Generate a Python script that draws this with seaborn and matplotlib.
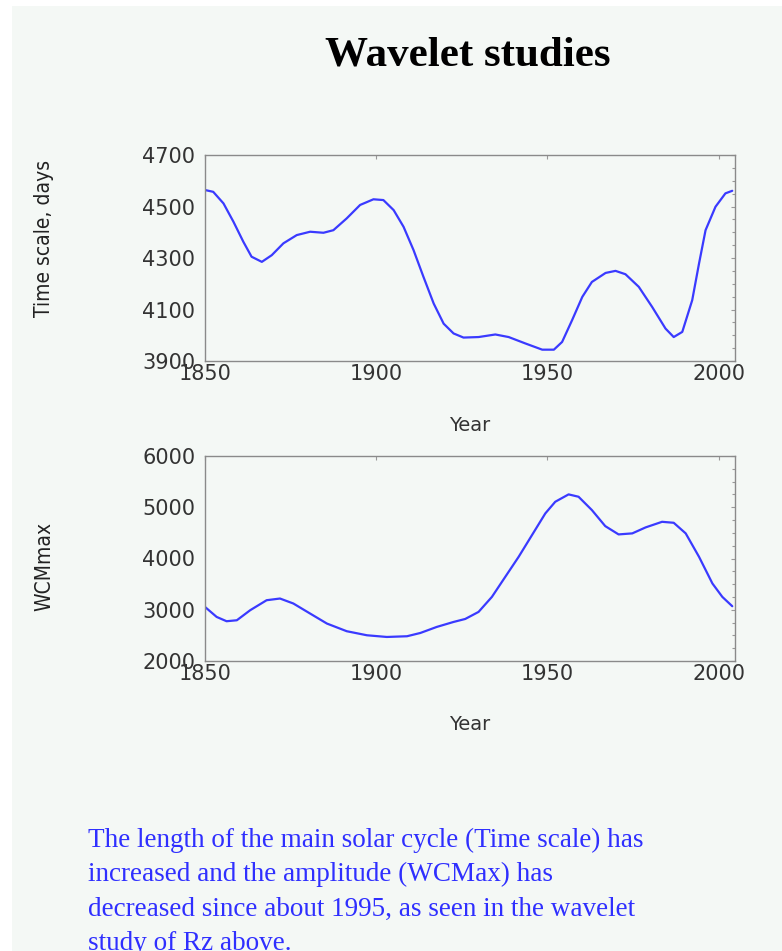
import seaborn as sns
import pandas as pd
import numpy as np
import matplotlib.pyplot as plt
from matplotlib.patches import Rectangle
from matplotlib.ticker import AutoMinorLocator

# data
years_ts = [1850, 1852.4, 1855.4, 1858.3, 1861.2, 1863.6, 1866.6, 1869.5, 1872.9, 1876.8,
            1880.7, 1884.6, 1887.5, 1891.4, 1895.3, 1899.2, 1902.1, 1905.1, 1908.0, 1910.9,
            1913.8, 1916.8, 1919.7, 1922.6, 1925.5, 1929.9, 1934.8, 1938.7, 1943.6, 1948.5,
            1951.9, 1954.3, 1957.2, 1960.2, 1963.0, 1967.0, 1969.9, 1972.8, 1976.7, 1980.6,
            1984.5, 1986.9, 1989.4, 1992.3, 1994.3, 1996.2, 1999.1, 2002.0, 2004.0]
time_scale = [4564, 4557, 4512, 4441, 4363, 4305, 4285, 4311, 4357, 4389,
              4402, 4398, 4408, 4454, 4506, 4528, 4525, 4486, 4421, 4331,
              4227, 4123, 4045, 4007, 3991, 3993, 4003, 3993, 3968, 3944,
              3944, 3974, 4058, 4149, 4207, 4242, 4250, 4237, 4188, 4110,
              4026, 3993, 4013, 4136, 4279, 4408, 4499, 4551, 4561]

years_wc = [1850, 1853.4, 1856.3, 1859.3, 1863.2, 1868.0, 1871.9, 1875.8, 1880.7, 1885.6,
            1891.4, 1897.3, 1903.1, 1909.0, 1912.9, 1917.7, 1922.6, 1926.0, 1929.9, 1933.8,
            1937.7, 1941.6, 1945.5, 1949.4, 1952.3, 1956.2, 1959.1, 1963.0, 1966.9, 1970.8,
            1974.8, 1978.7, 1983.5, 1986.9, 1990.4, 1994.3, 1998.2, 2001.1, 2004.0]
wcm_max = [3055, 2860, 2776, 2795, 2991, 3186, 3219, 3122, 2926, 2731,
           2581, 2502, 2469, 2483, 2547, 2665, 2762, 2820, 2958, 3251,
           3642, 4032, 4456, 4880, 5107, 5251, 5205, 4945, 4632, 4470,
           4490, 4607, 4716, 4697, 4490, 4032, 3513, 3251, 3069]

x_ticks = [1850, 1900, 1950, 2000]
ts_ticks = [3900, 4100, 4300, 4500, 4700]
wc_ticks = [2000, 3000, 4000, 5000, 6000]

df_ts = pd.DataFrame({'Year': years_ts, 'value': time_scale})
df_wc = pd.DataFrame({'Year': years_wc, 'value': wcm_max})

sns.set_style("white")
plt.rcParams['font.family'] = ['DejaVu Sans']

bg = '#f4f8f5'
line_col = '#3a3aff'

fig = plt.figure(figsize=(7.82, 9.51), dpi=100)
fig.patch.set_facecolor('white')
fig.patches.append(Rectangle((12 / 782, 0), 1, 1 - 6 / 951, transform=fig.transFigure,
                             facecolor=bg, edgecolor='none', zorder=-10))

fig.text(0.598, 1 - 56 / 951, 'Wavelet studies', ha='center', va='center',
         fontsize=31, fontweight='bold', color='black',
         family=['Liberation Serif', 'DejaVu Serif'])

ax1 = fig.add_axes([205 / 782, 1 - 361 / 951, 530 / 782, 206 / 951])
ax2 = fig.add_axes([205 / 782, 1 - 661 / 951, 530 / 782, 205 / 951])

panels = [
    (ax1, df_ts, ts_ticks, 'Time scale, days', 0.597),
    (ax2, df_wc, wc_ticks, 'WCMmax', 0.463),
]
for ax, df, yt, ylab, ly in panels:
    sns.lineplot(data=df, x='Year', y='value', ax=ax, color=line_col, linewidth=1.6)
    ax.set_facecolor(bg)
    ax.set_xlim(1850, 2004.8)
    ax.set_ylim(yt[0], yt[-1])
    ax.set_xticks(x_ticks)
    ax.set_yticks(yt)
    ax.yaxis.set_minor_locator(AutoMinorLocator(4))
    ax.tick_params(which='both', direction='in', top=True, right=True,
                   color='#999999', width=0.8)
    ax.tick_params(which='major', length=3, labelsize=15, labelcolor='#333333')
    ax.tick_params(which='minor', length=2)
    ax.tick_params(axis='x', pad=2)
    ax.tick_params(axis='y', pad=7)
    for s in ax.spines.values():
        s.set_color('#8a8a8a')
        s.set_linewidth(1)
    ax.set_xlabel('Year', fontsize=14, color='#333333')
    ax.xaxis.set_label_coords(0.499, -0.265)
    ax.set_ylabel(ylab, fontsize=15, color='#222222', fontstretch='condensed',
                  family=['DejaVu Sans'])
    ax.yaxis.set_label_coords(-0.285, ly)

note = ('The length of the main solar cycle (Time scale) has\n'
        'increased and the amplitude (WCMax) has\n'
        'decreased since about 1995, as seen in the wavelet\n'
        'study of Rz above.')
fig.text(88 / 782, 1 - 828 / 951, note, ha='left', va='top', fontsize=19.5,
         color='#2f2fff', linespacing=1.48, family=['Liberation Serif', 'DejaVu Serif'])

plt.savefig('out.png', dpi=100, facecolor=fig.get_facecolor())
